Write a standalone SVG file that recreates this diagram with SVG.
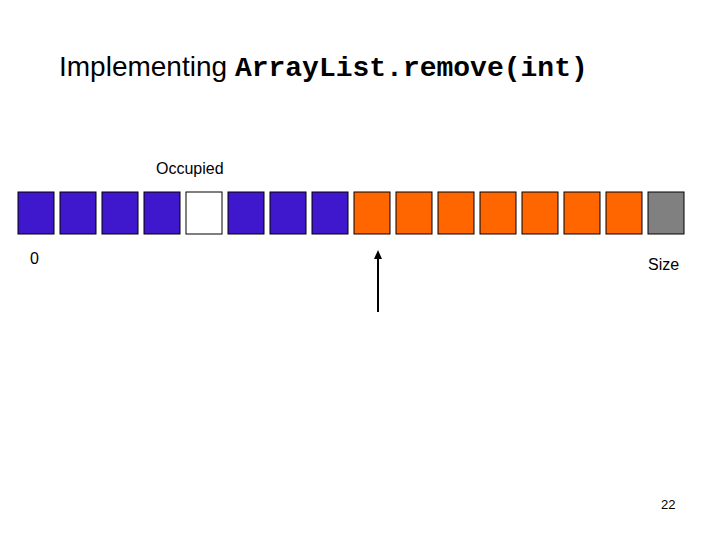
<svg xmlns="http://www.w3.org/2000/svg" width="720" height="540" viewBox="0 0 720 540">
<defs><style>
.t{font-family:"Liberation Sans",Arial,sans-serif;fill:#000}
.b{stroke:#000;stroke-width:1}
.p{fill:#3F17CC}.o{fill:#FF6600}.w{fill:#fff}.g{fill:#808080}
</style>
<marker id="ah" viewBox="0 0 10 10" refX="5" refY="0" markerWidth="8" markerHeight="8" orient="auto-start-reverse" markerUnits="userSpaceOnUse"><path d="M0,0 L5,-0 L5,0Z"/></marker>
</defs>
<rect width="720" height="540" fill="#fff"/>
<text x="59" y="76" class="t" font-size="28">Implementing <tspan font-family="'Liberation Mono',monospace" font-weight="bold">ArrayList.remove(int)</tspan></text>
<text x="156" y="174" class="t" font-size="16">Occupied</text>
<g id="cells">
<rect id="c0" class="b p" x="18" y="192" width="36" height="42"/>
<rect id="c1" class="b p" x="60" y="192" width="36" height="42"/>
<rect id="c2" class="b p" x="102" y="192" width="36" height="42"/>
<rect id="c3" class="b p" x="144" y="192" width="36" height="42"/>
<rect id="c4" class="b w" x="186" y="192" width="36" height="42"/>
<rect id="c5" class="b p" x="228" y="192" width="36" height="42"/>
<rect id="c6" class="b p" x="270" y="192" width="36" height="42"/>
<rect id="c7" class="b p" x="312" y="192" width="36" height="42"/>
<rect id="c8" class="b o" x="354" y="192" width="36" height="42"/>
<rect id="c9" class="b o" x="396" y="192" width="36" height="42"/>
<rect id="c10" class="b o" x="438" y="192" width="36" height="42"/>
<rect id="c11" class="b o" x="480" y="192" width="36" height="42"/>
<rect id="c12" class="b o" x="522" y="192" width="36" height="42"/>
<rect id="c13" class="b o" x="564" y="192" width="36" height="42"/>
<rect id="c14" class="b o" x="606" y="192" width="36" height="42"/>
<rect id="c15" class="b g" x="648" y="192" width="36" height="42"/>
</g>
<text x="30" y="264" class="t" font-size="16">0</text>
<text x="648" y="270" class="t" font-size="16">Size</text>
<g id="connectors">
<line x1="378" y1="312" x2="378" y2="258" stroke="#000" stroke-width="2"/>
<path d="M378,250 L374,259 L382,259Z" fill="#000"/>
</g>
<text x="661" y="509" class="t" font-size="13">22</text>
</svg>
